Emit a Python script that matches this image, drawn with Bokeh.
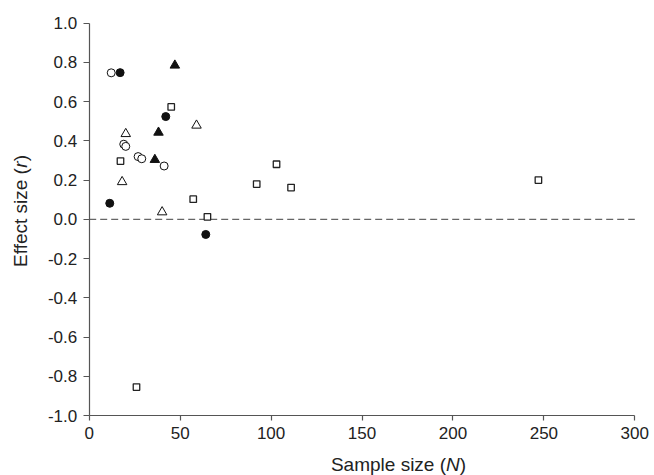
import math
from bokeh.plotting import figure
from bokeh.models import Range1d, FixedTicker, PrintfTickFormatter, Label
from bokeh.embed import file_html
from bokeh.resources import INLINE

# ---- data (sample size N, effect size r) ----
open_circle_n = [12.1, 19.0, 20.1, 26.9, 28.9, 41.2]
open_circle_r = [0.747, 0.383, 0.372, 0.320, 0.309, 0.272]

filled_circle_n = [17.0, 42.1, 11.3, 64.1]
filled_circle_r = [0.748, 0.524, 0.082, -0.077]

filled_tri_n = [47.1, 38.1, 36.1]
filled_tri_r = [0.785, 0.443, 0.304]

open_tri_n = [59.0, 20.1, 18.1, 40.1]
open_tri_r = [0.479, 0.436, 0.191, 0.037]

square_n = [45.1, 17.2, 103.0, 92.1, 57.2, 65.0, 111.0, 247.0, 26.0]
square_r = [0.573, 0.297, 0.281, 0.180, 0.103, 0.013, 0.162, 0.200, -0.855]

x_ticks = [0, 50, 100, 150, 200, 250, 300]
y_ticks = [-1.0, -0.8, -0.6, -0.4, -0.2, 0.0, 0.2, 0.4, 0.6, 0.8, 1.0]
ref_r = 0.0

# ---- layout (pixels on the canvas) ----
W, H = 654, 475
FX0, FX1 = 88.7, 634.3     # x = 0 and x = 300
FY0, FY1 = 415.0, 22.7     # y = -1 and y = 1
xmin, xmax = x_ticks[0], x_ticks[-1]
ymin, ymax = y_ticks[0], y_ticks[-1]
kx = (FX1 - FX0) / (xmax - xmin)
ky = (FY0 - FY1) / (ymax - ymin)
xr = Range1d(xmin - FX0 / kx, xmax + (W - FX1) / kx)
yr = Range1d(ymin - (H - FY0) / ky, ymax + FY1 / ky)

p = figure(width=W, height=H, x_range=xr, y_range=yr,
           output_backend="svg", toolbar_location=None,
           min_border_left=0, min_border_right=0, min_border_top=0, min_border_bottom=0)
p.xgrid.visible = False
p.ygrid.visible = False
p.outline_line_color = None
p.background_fill_color = "white"
p.border_fill_color = "white"

AX = "#555555"
for ax in (p.xaxis[0], p.yaxis[0]):
    ax.axis_line_color = AX
    ax.axis_line_width = 1.2
    ax.major_tick_line_color = AX
    ax.major_tick_line_width = 1.2
    ax.major_tick_in = 0
    ax.minor_tick_in = 0
    ax.minor_tick_out = 0
    ax.major_label_text_font = "Liberation Sans"
    ax.major_label_text_font_size = "17px"
    ax.major_label_text_color = "#222222"

xa = p.xaxis[0]
xa.ticker = FixedTicker(ticks=x_ticks)
xa.bounds = (xmin, xmax)
xa.fixed_location = ymin
xa.major_tick_out = 5
xa.major_label_standoff = 6

ya = p.yaxis[0]
ya.ticker = FixedTicker(ticks=y_ticks)
ya.formatter = PrintfTickFormatter(format="%.1f")
ya.bounds = (ymin, ymax)
ya.fixed_location = xmin
ya.major_tick_out = 6
ya.major_label_standoff = 6

# zero reference line
p.line([xmin, xmax], [ref_r, ref_r], line_color="#666666", line_width=1.2, line_dash="7 4")

# markers
p.scatter(square_n, square_r, marker="square", size=6.5, fill_color="white",
          line_color="#222222", line_width=1.3)
p.scatter(open_tri_n, open_tri_r, marker="triangle", size=9.5, fill_color="white",
          line_color="#111111", line_width=1)
p.scatter(filled_tri_n, filled_tri_r, marker="triangle", size=9.5, fill_color="#111111",
          line_color="#111111", line_width=1)
p.scatter(open_circle_n, open_circle_r, marker="circle", size=8, fill_color="white",
          line_color="#111111", line_width=1)
p.scatter(filled_circle_n, filled_circle_r, marker="circle", size=8, fill_color="#111111",
          line_color="#111111", line_width=1)

# axis titles (pieces so that the symbols can be italic)
def dx(px):
    return xr.start + px / kx

def dy(py):
    return yr.end - py / ky

TF = "Liberation Sans"
TS = 19
TC = "#222222"

def add_piece(text, px, py, italic=False, angle=0.0):
    p.add_layout(Label(x=dx(px), y=dy(py), text=text, angle=angle,
                       text_font=TF, text_font_size=f"{TS}px", text_color=TC,
                       text_font_style="italic" if italic else "normal",
                       text_align="left", text_baseline="alphabetic"))

# x title "Sample size (N)"
w1 = 6.057 * TS
w2 = 0.722 * TS
xs = 398 - (w1 + w2 + 0.333 * TS) / 2
xb = 464
add_piece("Sample size (", xs, xb)
add_piece("N", xs + w1, xb, italic=True)
add_piece(")", xs + w1 + w2, xb)

# y title "Effect size (r)"
v1 = 5.224 * TS
v2 = 0.333 * TS
ys = 210.5 + (v1 + v2 + 0.333 * TS) / 2
yb = 19.5
add_piece("Effect size (", yb, ys, angle=math.pi / 2)
add_piece("r", yb, ys - v1, italic=True, angle=math.pi / 2)
add_piece(")", yb, ys - v1 - v2, angle=math.pi / 2)

open("out.html", "w").write(file_html(p, INLINE))
